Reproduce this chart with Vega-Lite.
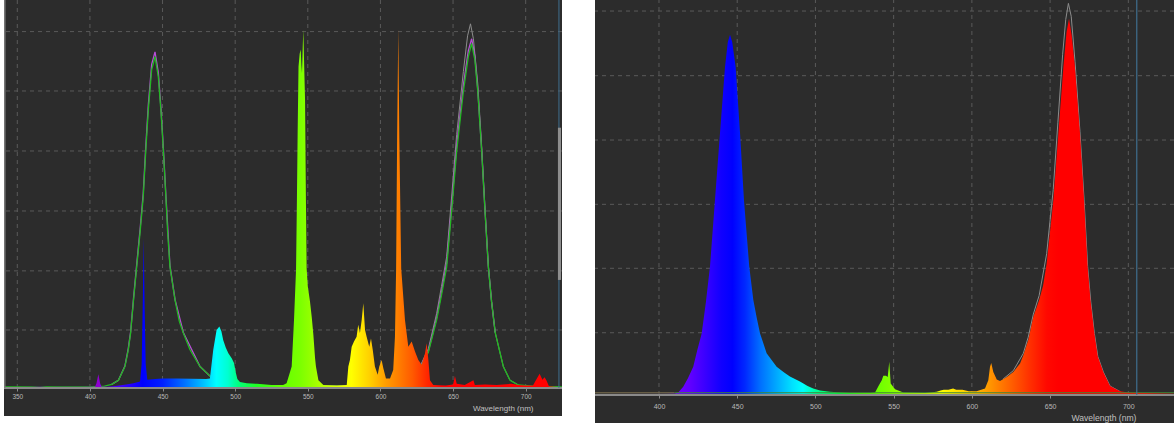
{
  "$schema": "https://vega.github.io/schema/vega-lite/v6.json",
  "background": "white",
  "padding": {"left": 4, "top": 0, "right": 0, "bottom": 0},
  "spacing": 33,
  "bounds": "flush",
  "config": {
    "view": {"stroke": null, "fill": "#2c2c2c"},
    "font": "Liberation Sans",
    "axisX": {"grid": false, "domain": false, "offset": -28, "tickColor": "#8a8a8a", "tickSize": 3, "labelColor": "#b8b8b8", "titleColor": "#c0c0c0", "titleFontWeight": "normal", "titleAlign": "right", "titleBaseline": "middle"}
  },
  "datasets": {
    "gridL": [{"w":350},{"w":400},{"w":450},{"w":500},{"w":550},{"w":600},{"w":650},{"w":700}],
    "gridR": [{"w":400},{"w":450},{"w":500},{"w":550},{"w":600},{"w":650},{"w":700}],
    "hgridL": [{"v":0.972},{"v":1.962},{"v":2.965},{"v":3.97},{"v":4.975},{"v":5.97}],
    "hgridR": [{"v":0.97},{"v":1.974},{"v":2.97},{"v":3.972},{"v":4.974},{"v":5.981}],
    "borderL": [{"w":722.9}],
    "edgeL": [{"w":341.4}],
    "scrollL": [{"w":722.2,"w2":724.3,"v":1.81,"v2":4.36}],
    "markerR": [{"w":705.4}],
    "baseL": [{"w":340.84,"v":0},{"w":725,"v":0}],
    "baseR": [{"w":359.1,"v":0},{"w":729.2,"v":0}],
    "leftSpec": [
      {"w":340.84,"v":0.01},{"w":350,"v":0.015},{"w":360,"v":0.02},{"w":365.6,"v":0.035},{"w":370,"v":0.015},{"w":380,"v":0.02},{"w":390,"v":0.02},{"w":400,"v":0.02},
      {"w":403.5,"v":0.02},{"w":404.5,"v":0.08},{"w":405.8,"v":0.23},{"w":407,"v":0.08},{"w":408,"v":0.02},{"w":412,"v":0.02},{"w":416,"v":0.03},{"w":420,"v":0.04},{"w":425,"v":0.06},{"w":430,"v":0.08},
      {"w":434.5,"v":0.11},{"w":435.6,"v":0.4},{"w":436.3,"v":1.3},{"w":437.0,"v":2.51},{"w":437.7,"v":1.3},{"w":438.4,"v":0.4},{"w":439.5,"v":0.14},
      {"w":445,"v":0.15},{"w":450,"v":0.16},{"w":460,"v":0.16},{"w":470,"v":0.155},{"w":480,"v":0.15},{"w":482.6,"v":0.16},
      {"w":484.9,"v":0.64},{"w":487.2,"v":0.97},{"w":489.1,"v":1.03},{"w":490.5,"v":0.95},{"w":491.8,"v":0.8},{"w":493.5,"v":0.68},{"w":495.3,"v":0.58},{"w":497.6,"v":0.5},{"w":499.2,"v":0.42},{"w":500.5,"v":0.25},{"w":501.5,"v":0.15},{"w":503.3,"v":0.1},{"w":508,"v":0.08},{"w":515,"v":0.07},{"w":525,"v":0.05},{"w":533,"v":0.05},
      {"w":535.4,"v":0.08},{"w":538.9,"v":0.36},{"w":540.5,"v":1.14},{"w":541.9,"v":1.98},{"w":542.5,"v":3.15},{"w":543,"v":4.27},{"w":543.6,"v":5.38},{"w":544.4,"v":5.6},{"w":545.1,"v":5.67},{"w":545.6,"v":5.4},{"w":546.0,"v":5.27},{"w":546.5,"v":5.7},{"w":546.9,"v":6.0},{"w":547.4,"v":5.5},{"w":548.1,"v":4.82},{"w":548.7,"v":3.15},{"w":549.2,"v":2.0},{"w":550,"v":1.7},{"w":551.5,"v":1.45},{"w":552.7,"v":1.19},{"w":553.8,"v":0.9},{"w":555,"v":0.5},{"w":555.6,"v":0.36},{"w":557.3,"v":0.13},{"w":560.7,"v":0.05},{"w":570,"v":0.04},
      {"w":576.8,"v":0.05},{"w":577.9,"v":0.36},{"w":579,"v":0.47},{"w":580.2,"v":0.69},{"w":581.8,"v":0.78},{"w":583.6,"v":0.86},{"w":584.7,"v":1.06},{"w":585.9,"v":0.92},{"w":587.1,"v":1.14},{"w":588.2,"v":1.42},{"w":589.4,"v":0.97},{"w":590.5,"v":0.86},{"w":592.3,"v":0.69},{"w":593.5,"v":0.83},{"w":594.7,"v":0.64},{"w":596.2,"v":0.36},{"w":598.1,"v":0.22},{"w":599.2,"v":0.36},{"w":600.8,"v":0.47},{"w":602,"v":0.33},{"w":603.8,"v":0.16},{"w":606.6,"v":0.16},{"w":608.8,"v":0.3},
      {"w":610,"v":0.86},{"w":610.8,"v":2.0},{"w":611.5,"v":4.2},{"w":612.3,"v":6.02},{"w":613.0,"v":4.2},{"w":614.3,"v":2.0},{"w":616.9,"v":1.14},{"w":619.2,"v":0.69},{"w":621.5,"v":0.78},{"w":623.8,"v":0.61},{"w":626.1,"v":0.47},{"w":628.4,"v":0.39},{"w":630.7,"v":0.58},{"w":631.8,"v":0.75},{"w":633,"v":0.47},{"w":634.1,"v":0.13},{"w":636.4,"v":0.05},
      {"w":645,"v":0.04},{"w":650,"v":0.06},{"w":651.3,"v":0.2},{"w":652.5,"v":0.07},{"w":658,"v":0.05},{"w":664,"v":0.13},{"w":665,"v":0.05},{"w":672,"v":0.06},{"w":680,"v":0.05},{"w":690,"v":0.07},{"w":695,"v":0.05},{"w":700,"v":0.04},{"w":705,"v":0.04},
      {"w":707.5,"v":0.15},{"w":709.6,"v":0.24},{"w":711.5,"v":0.14},{"w":713,"v":0.18},{"w":714.4,"v":0.12},{"w":716,"v":0.03},{"w":725,"v":0.01}
    ],
    "leftGreen": [
      {"w":340.84,"v":0.02},{"w":400,"v":0.02},{"w":410,"v":0.03},{"w":415,"v":0.06},{"w":419.6,"v":0.13},{"w":424.1,"v":0.36},{"w":426.4,"v":0.64},{"w":428,"v":0.92},{"w":430,"v":1.47},{"w":432.2,"v":2.03},{"w":434.5,"v":2.6},{"w":436.7,"v":3.2},{"w":438.5,"v":4.0},{"w":440.2,"v":4.66},{"w":442.5,"v":5.33},{"w":444.8,"v":5.55},{"w":447.1,"v":5.21},{"w":449,"v":4.6},{"w":450.5,"v":4.0},{"w":452.4,"v":3.15},{"w":453.5,"v":2.6},{"w":455.1,"v":2.03},{"w":458.6,"v":1.47},{"w":461.5,"v":1.12},{"w":464.3,"v":0.92},{"w":468.9,"v":0.64},{"w":475.8,"v":0.36},{"w":482.6,"v":0.2},{"w":490,"v":0.1},{"w":500,"v":0.05},{"w":520,"v":0.03},{"w":600,"v":0.03},
      {"w":620,"v":0.08},{"w":625,"v":0.2},{"w":628.4,"v":0.39},{"w":633,"v":0.6},{"w":638.7,"v":1.14},{"w":642,"v":1.55},{"w":645.6,"v":2.03},{"w":649,"v":2.96},{"w":652.5,"v":3.97},{"w":657.1,"v":4.97},{"w":660.5,"v":5.55},{"w":662.8,"v":5.77},{"w":665,"v":5.5},{"w":667,"v":4.97},{"w":669.7,"v":3.97},{"w":672,"v":2.96},{"w":674.3,"v":2.03},{"w":676.5,"v":1.45},{"w":679,"v":0.93},{"w":684.6,"v":0.36},{"w":689.2,"v":0.13},{"w":695,"v":0.05},{"w":705,"v":0.03},{"w":725,"v":0.02}
    ],
    "leftPurple": [
      {"w":415,"v":0.06},{"w":419.6,"v":0.13},{"w":424.1,"v":0.37},{"w":426.4,"v":0.66},{"w":428,"v":0.94},{"w":430,"v":1.5},{"w":432.2,"v":2.07},{"w":434.5,"v":2.65},{"w":436.7,"v":3.26},{"w":438.5,"v":4.07},{"w":440.2,"v":4.74},{"w":442.5,"v":5.42},{"w":444.8,"v":5.63},{"w":447.1,"v":5.28},{"w":449,"v":4.65},{"w":450.5,"v":4.04},{"w":452.4,"v":3.18},{"w":455.1,"v":2.05},{"w":458.6,"v":1.48},{"w":464.3,"v":0.93},{"w":475.8,"v":0.36},{"w":482.6,"v":0.2},{"w":490,"v":0.1},{"w":500,"v":0.05},{"w":520,"v":0.03},{"w":600,"v":0.03},{"w":620,"v":0.08},{"w":625,"v":0.2},
      {"w":628.4,"v":0.4},{"w":633,"v":0.62},{"w":638.7,"v":1.18},{"w":642,"v":1.6},{"w":645.6,"v":2.1},{"w":649,"v":3.05},{"w":652.5,"v":4.07},{"w":657.1,"v":5.07},{"w":660.5,"v":5.65},{"w":662.8,"v":5.85},{"w":665,"v":5.56},{"w":667,"v":5.0},{"w":669.7,"v":3.98},{"w":672,"v":2.97},{"w":674.3,"v":2.03},{"w":676.5,"v":1.45},{"w":679,"v":0.93}
    ],
    "leftGray": [
      {"w":625,"v":0.2},{"w":628.4,"v":0.42},{"w":633,"v":0.66},{"w":638.7,"v":1.25},{"w":642,"v":1.7},{"w":645.6,"v":2.2},{"w":649,"v":3.2},{"w":652.5,"v":4.25},{"w":657.1,"v":5.3},{"w":660,"v":5.9},{"w":662,"v":6.1},{"w":664,"v":5.85},{"w":667,"v":5.1},{"w":669.7,"v":4.05},{"w":672,"v":3.0},{"w":674.3,"v":2.05},{"w":676.5,"v":1.45},{"w":679,"v":0.93},{"w":684.6,"v":0.36},{"w":689.2,"v":0.13},{"w":695,"v":0.05}
    ],
    "rightSpec": [
      {"w":359.1,"v":0.02},{"w":400,"v":0.02},{"w":410,"v":0.025},{"w":412.3,"v":0.04},{"w":415.5,"v":0.13},{"w":418.5,"v":0.26},{"w":421.9,"v":0.44},{"w":424.5,"v":0.7},{"w":427.3,"v":0.96},{"w":430,"v":1.45},{"w":432.6,"v":2.0},{"w":435.8,"v":3.04},{"w":439,"v":4.08},{"w":442.2,"v":5.11},{"w":444,"v":5.5},{"w":445.4,"v":5.61},{"w":446.8,"v":5.5},{"w":449,"v":5.11},{"w":451.8,"v":4.08},{"w":454.3,"v":3.04},{"w":457.7,"v":2.0},{"w":460.3,"v":1.48},{"w":462.5,"v":1.2},{"w":464.6,"v":0.96},{"w":468.8,"v":0.65},{"w":475.2,"v":0.44},{"w":480,"v":0.35},{"w":483.7,"v":0.29},{"w":490.1,"v":0.21},{"w":495,"v":0.14},{"w":498.6,"v":0.1},{"w":503,"v":0.07},{"w":509.3,"v":0.05},{"w":522,"v":0.03},{"w":535,"v":0.03},
      {"w":538.1,"v":0.04},{"w":540.5,"v":0.15},{"w":542.4,"v":0.23},{"w":543.4,"v":0.3},{"w":545.1,"v":0.3},{"w":546.2,"v":0.28},{"w":547.2,"v":0.52},{"w":548.1,"v":0.18},{"w":550.9,"v":0.09},{"w":556.2,"v":0.04},{"w":570,"v":0.03},
      {"w":577.5,"v":0.05},{"w":580,"v":0.07},{"w":582,"v":0.08},{"w":585,"v":0.08},{"w":588,"v":0.1},{"w":590,"v":0.08},{"w":594,"v":0.08},{"w":598,"v":0.06},{"w":603,"v":0.06},{"w":608.4,"v":0.1},{"w":610.5,"v":0.23},{"w":611.6,"v":0.44},{"w":612.4,"v":0.5},{"w":613.7,"v":0.36},{"w":615.9,"v":0.24},{"w":618,"v":0.22},{"w":622.3,"v":0.28},{"w":626.5,"v":0.36},{"w":630.8,"v":0.49},{"w":632.9,"v":0.62},{"w":636.1,"v":0.86},{"w":639.3,"v":1.22},{"w":643,"v":1.48},{"w":645.5,"v":1.7},{"w":647.8,"v":2.05},{"w":650,"v":2.55},{"w":652.1,"v":3.04},{"w":655.3,"v":4.08},{"w":658.5,"v":5.11},{"w":660.5,"v":5.65},{"w":662.1,"v":5.86},{"w":663.8,"v":5.6},{"w":665.9,"v":5.11},{"w":669.1,"v":4.08},{"w":671.7,"v":3.04},{"w":674,"v":2.0},{"w":675.8,"v":1.48},{"w":678.3,"v":0.96},{"w":680.5,"v":0.6},{"w":684,"v":0.36},{"w":688.3,"v":0.14},{"w":694.7,"v":0.06},{"w":700,"v":0.04},{"w":710,"v":0.03},{"w":729.2,"v":0.02}
    ],
    "rightGray": [
      {"w":620,"v":0.25},{"w":626.5,"v":0.38},{"w":632.9,"v":0.65},{"w":636,"v":0.9},{"w":639.3,"v":1.26},{"w":643,"v":1.55},{"w":647.8,"v":2.2},{"w":652,"v":3.2},{"w":655,"v":4.25},{"w":658,"v":5.3},{"w":660,"v":5.85},{"w":661.7,"v":6.1},{"w":663.5,"v":5.9},{"w":665.9,"v":5.2},{"w":669.1,"v":4.1},{"w":671.7,"v":3.05},{"w":674,"v":2.0},{"w":676,"v":1.45},{"w":678.3,"v":0.96},{"w":680.5,"v":0.6},{"w":684,"v":0.36},{"w":688.3,"v":0.14},{"w":695,"v":0.05}
    ],
    "rightBaseA": [{"w":359.1,"v":0.035},{"w":410,"v":0.035}],
    "rightBaseB": [{"w":410,"v":0.035},{"w":729.2,"v":0.035}]
  },
  "hconcat": [
    {
      "width": 558,
      "height": 416,
      "layer": [
        {
          "data": {"name": "hgridL"},
          "mark": {"type": "rule", "color": "#5a5a5a", "strokeDash": [4, 4], "strokeWidth": 1, "clip": true},
          "encoding": {
            "y": {"field": "v", "type": "quantitative", "scale": {"domain": [-0.469, 6.499], "nice": false}, "axis": null}
          }
        },
        {
          "encoding": {
            "x": {"field": "w", "type": "quantitative", "scale": {"domain": [340.84, 725], "nice": false, "zero": false},
              "axis": {"values": [350,400,450,500,550,600,650,700], "labelFontSize": 6.5, "labelPadding": 2, "title": "Wavelength (nm)", "titleFontSize": 8, "titleX": 529, "titleY": 20}}
          },
          "layer": [
            {
              "data": {"name": "gridL"},
              "mark": {"type": "rule", "color": "#5a5a5a", "strokeDash": [4, 4], "strokeWidth": 1, "clip": true},
              "encoding": {
                "y": {"datum": 0, "type": "quantitative", "axis": null},
                "y2": {"datum": 6.499}
              }
            },
            {
              "data": {"name": "leftGray"},
              "mark": {"type": "line", "color": "#8c8c8c", "strokeWidth": 1, "clip": true},
              "encoding": {"y": {"field": "v", "type": "quantitative", "axis": null}}
            },
            {
              "data": {"name": "leftPurple"},
              "mark": {"type": "line", "color": "#b84fd8", "strokeWidth": 1.3, "clip": true},
              "encoding": {"y": {"field": "v", "type": "quantitative", "axis": null}}
            },
            {
              "data": {"name": "leftGreen"},
              "mark": {"type": "line", "color": "#22b822", "strokeWidth": 1.3, "clip": true},
              "encoding": {"y": {"field": "v", "type": "quantitative", "axis": null}}
            },
            {
              "data": {"name": "leftSpec"},
              "mark": {"type": "area", "fillOpacity": 1, "clip": true,
                "color": {"gradient": "linear", "x1": 0, "y1": 0, "x2": 1, "y2": 0,
                  "stops": [
                    {"offset": 0, "color": "#3c3c48"},
                    {"offset": 0.141, "color": "#4a3a6a"},
                    {"offset": 0.1566, "color": "#7a00c0"},
                    {"offset": 0.1691, "color": "#9000d0"},
                    {"offset": 0.1852, "color": "#6000ff"},
                    {"offset": 0.2191, "color": "#3000ff"},
                    {"offset": 0.2478, "color": "#0000ff"},
                    {"offset": 0.2842, "color": "#0020ff"},
                    {"offset": 0.3232, "color": "#0070ff"},
                    {"offset": 0.357, "color": "#00c0ff"},
                    {"offset": 0.3805, "color": "#00ffff"},
                    {"offset": 0.4013, "color": "#00ffd0"},
                    {"offset": 0.4195, "color": "#00ff80"},
                    {"offset": 0.4533, "color": "#20ff20"},
                    {"offset": 0.4924, "color": "#60ff00"},
                    {"offset": 0.5314, "color": "#7cff00"},
                    {"offset": 0.5575, "color": "#a0ff00"},
                    {"offset": 0.5913, "color": "#d8ff00"},
                    {"offset": 0.6225, "color": "#ffff00"},
                    {"offset": 0.6538, "color": "#ffd200"},
                    {"offset": 0.6824, "color": "#ffa000"},
                    {"offset": 0.7058, "color": "#ff8000"},
                    {"offset": 0.7318, "color": "#ff5a00"},
                    {"offset": 0.7578, "color": "#ff2800"},
                    {"offset": 0.7838, "color": "#ff0000"},
                    {"offset": 1, "color": "#ff0000"}
                  ]}},
              "encoding": {
                "y": {"field": "v", "type": "quantitative", "axis": null},
                "y2": {"datum": 0}
              }
            },
            {
              "data": {"name": "baseL"},
              "mark": {"type": "line", "color": "#8a8a8a", "strokeWidth": 2, "clip": true},
              "encoding": {"y": {"field": "v", "type": "quantitative", "axis": null}}
            },
            {
              "data": {"name": "borderL"},
              "mark": {"type": "rule", "color": "#3f6f8f", "strokeWidth": 1, "clip": true},
              "encoding": {
                "y": {"datum": 0, "type": "quantitative", "axis": null},
                "y2": {"datum": 6.499}
              }
            },
            {
              "data": {"name": "edgeL"},
              "mark": {"type": "rule", "color": "#7a7a7a", "strokeWidth": 1.5, "clip": true},
              "encoding": {
                "y": {"datum": 0, "type": "quantitative", "axis": null},
                "y2": {"datum": 6.499}
              }
            },
            {
              "data": {"name": "scrollL"},
              "mark": {"type": "rect", "color": "#8e8e8e", "clip": true},
              "encoding": {
                "x2": {"field": "w2"},
                "y": {"field": "v", "type": "quantitative", "axis": null},
                "y2": {"field": "v2"}
              }
            }
          ]
        }
      ]
    },
    {
      "width": 579,
      "height": 423,
      "layer": [
        {
          "data": {"name": "hgridR"},
          "mark": {"type": "rule", "color": "#5a5a5a", "strokeDash": [4, 4], "strokeWidth": 1, "clip": true},
          "encoding": {
            "y": {"field": "v", "type": "quantitative", "scale": {"domain": [-0.436, 6.153], "nice": false}, "axis": null}
          }
        },
        {
          "encoding": {
            "x": {"field": "w", "type": "quantitative", "scale": {"domain": [359.1, 729.2], "nice": false, "zero": false},
              "axis": {"values": [400,450,500,550,600,650,700], "labelFontSize": 7, "labelPadding": 4, "title": "Wavelength (nm)", "titleFontSize": 8.6, "titleX": 541, "titleY": 22}}
          },
          "layer": [
            {
              "data": {"name": "gridR"},
              "mark": {"type": "rule", "color": "#5a5a5a", "strokeDash": [4, 4], "strokeWidth": 1, "clip": true},
              "encoding": {
                "y": {"datum": 0, "type": "quantitative", "axis": null},
                "y2": {"datum": 6.153}
              }
            },
            {
              "data": {"name": "rightGray"},
              "mark": {"type": "line", "color": "#8c8c8c", "strokeWidth": 1, "clip": true},
              "encoding": {"y": {"field": "v", "type": "quantitative", "axis": null}}
            },
            {
              "data": {"name": "rightSpec"},
              "mark": {"type": "area", "fillOpacity": 1, "clip": true,
                "color": {"gradient": "linear", "x1": 0, "y1": 0, "x2": 1, "y2": 0,
                  "stops": [
                    {"offset": 0, "color": "#555548"},
                    {"offset": 0.124, "color": "#5a4a70"},
                    {"offset": 0.143, "color": "#7000ff"},
                    {"offset": 0.1646, "color": "#6000ff"},
                    {"offset": 0.1916, "color": "#3800ff"},
                    {"offset": 0.2186, "color": "#1000ff"},
                    {"offset": 0.2375, "color": "#0000ff"},
                    {"offset": 0.2591, "color": "#0028ff"},
                    {"offset": 0.2861, "color": "#0070ff"},
                    {"offset": 0.3132, "color": "#00a8ff"},
                    {"offset": 0.3402, "color": "#00e0ff"},
                    {"offset": 0.3591, "color": "#00ffff"},
                    {"offset": 0.3807, "color": "#00ffa0"},
                    {"offset": 0.4212, "color": "#00ff40"},
                    {"offset": 0.4618, "color": "#50ff00"},
                    {"offset": 0.5077, "color": "#80ff00"},
                    {"offset": 0.5563, "color": "#c0ff00"},
                    {"offset": 0.5969, "color": "#ffff00"},
                    {"offset": 0.6509, "color": "#ffc000"},
                    {"offset": 0.6834, "color": "#ff9400"},
                    {"offset": 0.7185, "color": "#ff6000"},
                    {"offset": 0.7509, "color": "#ff3000"},
                    {"offset": 0.7806, "color": "#ff0800"},
                    {"offset": 0.7995, "color": "#ff0000"},
                    {"offset": 1, "color": "#ff0000"}
                  ]}},
              "encoding": {
                "y": {"field": "v", "type": "quantitative", "axis": null},
                "y2": {"datum": 0}
              }
            },
            {
              "data": {"name": "baseR"},
              "mark": {"type": "line", "color": "#8a8a8a", "strokeWidth": 2, "clip": true},
              "encoding": {"y": {"field": "v", "type": "quantitative", "axis": null}}
            },
            {
              "data": {"name": "rightBaseA"},
              "mark": {"type": "line", "color": "#7a6e4e", "strokeWidth": 1, "clip": true},
              "encoding": {"y": {"field": "v", "type": "quantitative", "axis": null}}
            },
            {
              "data": {"name": "rightBaseB"},
              "mark": {"type": "line", "color": "#3e8a36", "strokeWidth": 1, "clip": true},
              "encoding": {"y": {"field": "v", "type": "quantitative", "axis": null}}
            },
            {
              "data": {"name": "markerR"},
              "mark": {"type": "rule", "color": "#3f6f8f", "strokeWidth": 1.2, "clip": true},
              "encoding": {
                "y": {"datum": 0, "type": "quantitative", "axis": null},
                "y2": {"datum": 6.153}
              }
            }
          ]
        }
      ]
    }
  ]
}
